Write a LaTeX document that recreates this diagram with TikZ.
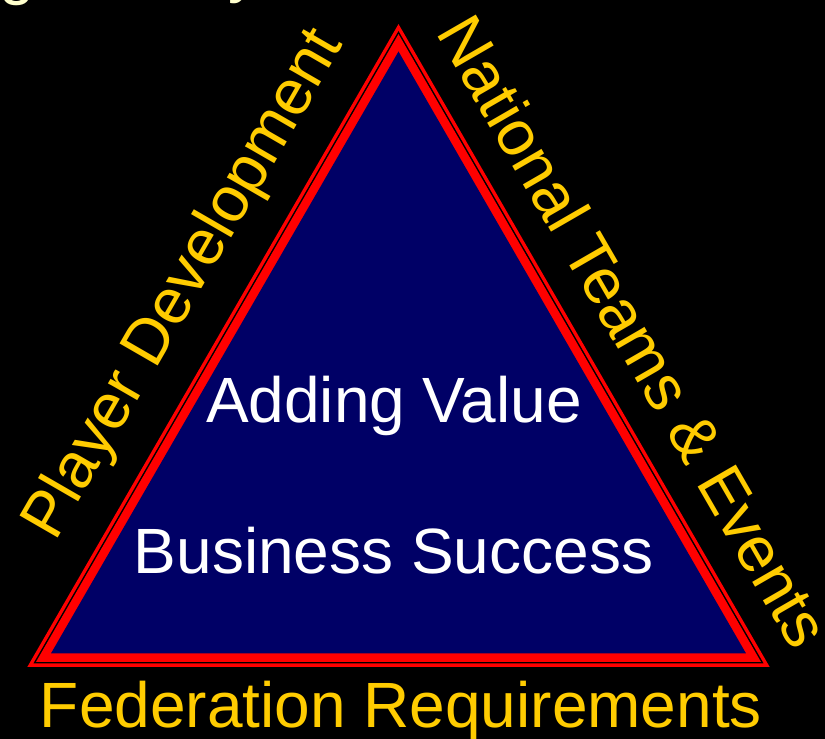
\documentclass[tikz,border=0pt]{standalone}
\usepackage{fontspec}
\setmainfont{Liberation Sans}
\definecolor{navy}{RGB}{0,0,102}
\definecolor{gold}{RGB}{255,204,0}
\definecolor{cream}{RGB}{255,255,204}
\newcommand\trilayer[2]{%
  \fill[#2] (398.5,{452.67-2*#1}) -- ({398.5-1.73205*#1},{452.67+#1}) -- ({398.5+1.73205*#1},{452.67+#1}) -- cycle;}
\begin{document}
\begin{tikzpicture}[x=1pt,y=-1pt,
  big/.style={font=\fontsize{64}{77}\selectfont, inner sep=0pt, outer sep=0pt, anchor=base},
  sidelabel/.style={big, text=gold},
  centerlabel/.style={big, text=white},
  titlefrag/.style={big, text=cream, anchor=base west}]
\fill[black] (0,0) rectangle (825,739);
\useasboundingbox (0,0) rectangle (825,739);
% triangle: outer thin line, gap, thick band, navy fill
\trilayer{214.3}{red}
\trilayer{210.8}{black}
\trilayer{209.3}{red}
\trilayer{200.6}{navy}
\coordinate (C) at (398.5,452.67);
% cut-off title fragments at the top
\node[titlefrag] (tg) at (-1,-8) {g};
\node[titlefrag] (ty) at (228,-10) {y};
% centre texts
\node[centerlabel] (value) at (394,422) {Adding Value};
\node[centerlabel] (success) at (393.5,573) {Business Success};
% side labels
\node[sidelabel, rotate=60] (player) at (199.6,293.4) {Player Development};
\node[sidelabel, rotate=-60] (national) at (614.5,342.5) {National Teams \& Events};
\node[sidelabel] (federation) at (401,727) {Federation Requirements};
\end{tikzpicture}
\end{document}
